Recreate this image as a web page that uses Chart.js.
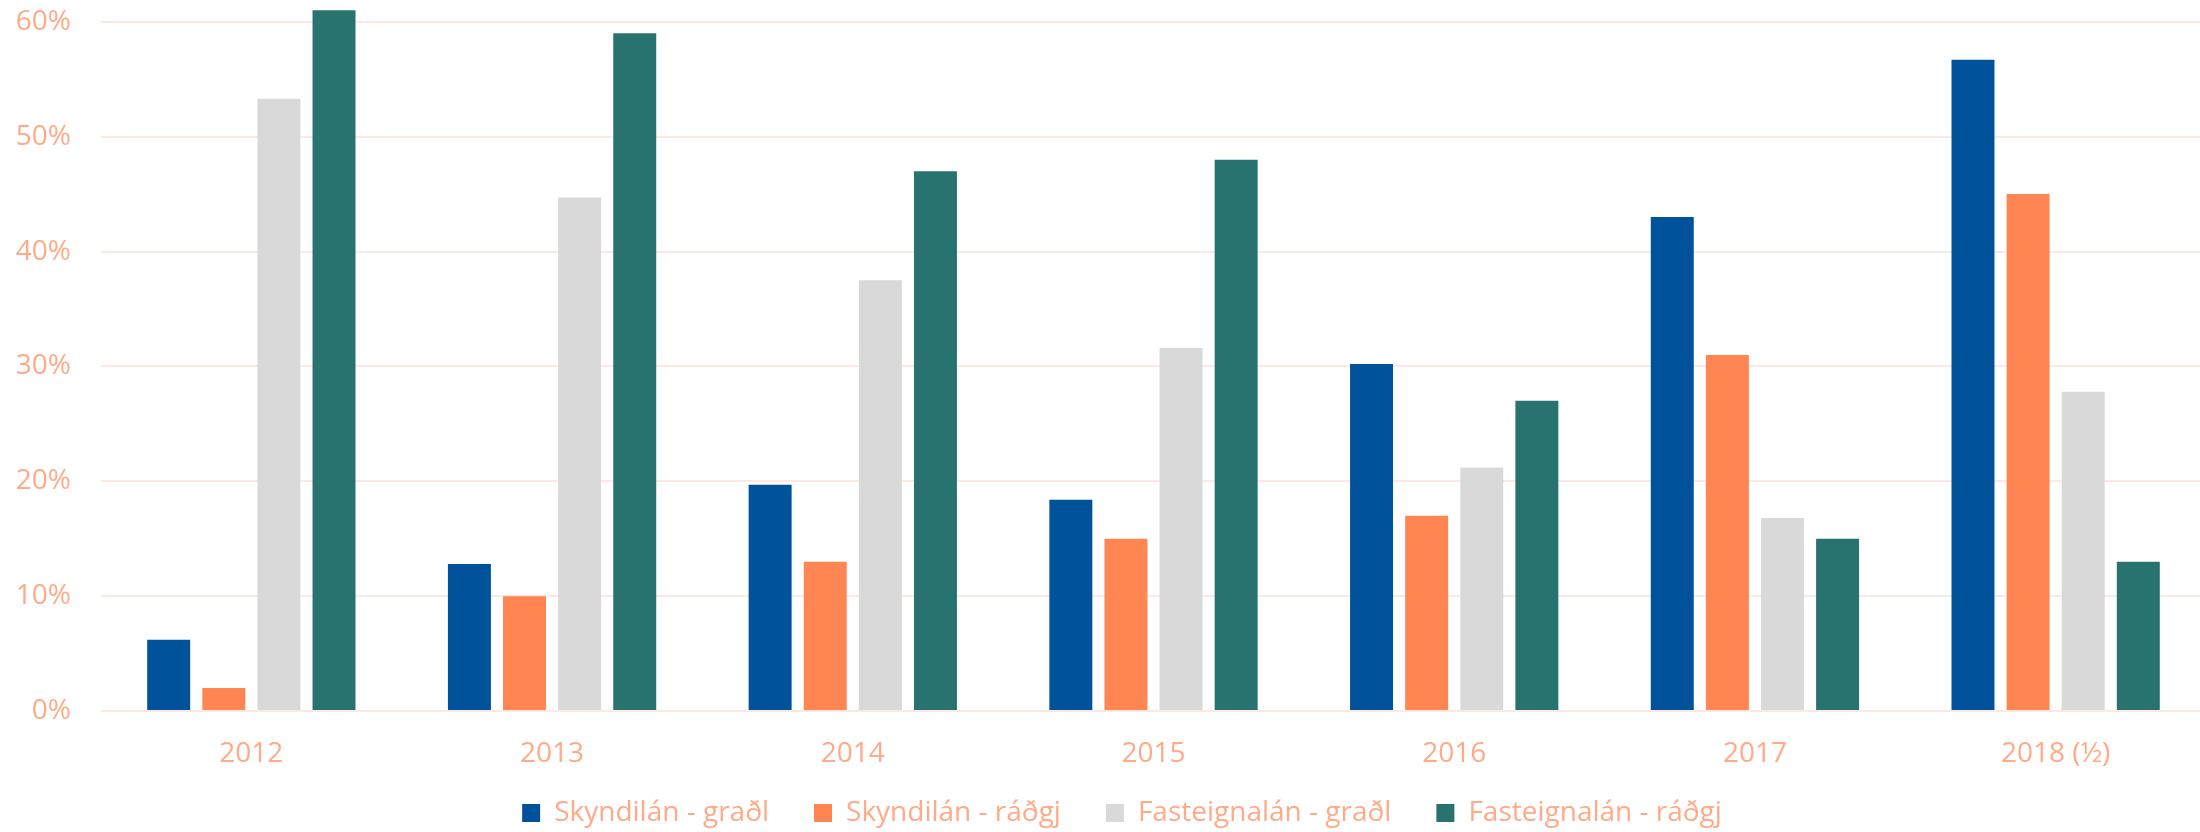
<!DOCTYPE html>
<html>
<head>
<meta charset="utf-8">
<script src="https://cdn.jsdelivr.net/npm/chart.js@4/dist/chart.umd.min.js"></script>
<style>
html,body{margin:0;padding:0;background:#fff;overflow:hidden;}
#wrap{width:2206px;height:832px;position:relative;}
</style>
</head>
<body>
<div id="wrap"><canvas id="c" width="2206" height="832"></canvas></div>
<script>
const categories = ["2012", "2013", "2014", "2015", "2016", "2017", "2018 (½)"];
const seriesNames = ["Skyndilán - graðl", "Skyndilán - ráðgj", "Fasteignalán - graðl", "Fasteignalán - ráðgj"];
const skyndiGradl = [6.2, 12.8, 19.7, 18.4, 30.2, 43.0, 56.7];
const skyndiRadgj = [2.0, 10.0, 13.0, 15.0, 17.0, 31.0, 45.0];
const fastGradl = [53.3, 44.7, 37.5, 31.6, 21.2, 16.8, 27.8];
const fastRadgj = [61.0, 59.0, 47.0, 48.0, 27.0, 15.0, 13.0];
const seriesColors = ["#00539A", "#FF8652", "#D9D9D9", "#287370"];
const yTickValues = [0, 10, 20, 30, 40, 50, 60];

const textColor = "#FFAA88";
const fontFamily = "'Open Sans', sans-serif";
const values = [skyndiGradl, skyndiRadgj, fastGradl, fastRadgj];

const legendShift = {
  id: 'legendShift',
  afterLayout(chart) {
    const lg = chart.legend;
    if (lg) { lg.left += 38; lg.top = 754; lg.bottom = 832; }
  }
};

new Chart(document.getElementById('c'), {
  type: 'bar',
  data: {
    labels: categories,
    datasets: values.map((v, i) => ({
      label: seriesNames[i],
      data: v,
      backgroundColor: seriesColors[i],
      borderWidth: 0,
      categoryPercentage: 0.733,
      barPercentage: 0.78
    }))
  },
  plugins: [legendShift],
  options: {
    responsive: false,
    animation: false,
    layout: { padding: 0 },
    plugins: {
      legend: {
        position: 'bottom',
        maxHeight: 41,
        labels: {
          color: textColor,
          font: { family: fontFamily, size: 28 },
          boxWidth: 18,
          boxHeight: 18,
          padding: 45
        }
      },
      tooltip: { enabled: false }
    },
    scales: {
      x: {
        afterFit: s => { s.height = 80; s.paddingLeft = 0; s.paddingRight = 0; },
        grid: { display: false, drawTicks: false },
        border: { display: false },
        ticks: {
          color: textColor,
          font: { family: fontFamily, size: 28 },
          padding: 26,
          maxRotation: 0
        }
      },
      y: {
        min: 0,
        max: 61.9,
        afterFit: s => { s.width = 101; s.paddingTop = 0; s.paddingBottom = 0; },
        afterBuildTicks: s => { s.ticks = yTickValues.map(v => ({ value: v })); },
        grid: { color: "#FDE9E1", lineWidth: 2, drawTicks: false },
        border: { display: false },
        ticks: {
          color: textColor,
          font: { family: fontFamily, size: 28 },
          padding: 30,
          callback: v => v + '%'
        }
      }
    }
  }
});
</script>
</body>
</html>
